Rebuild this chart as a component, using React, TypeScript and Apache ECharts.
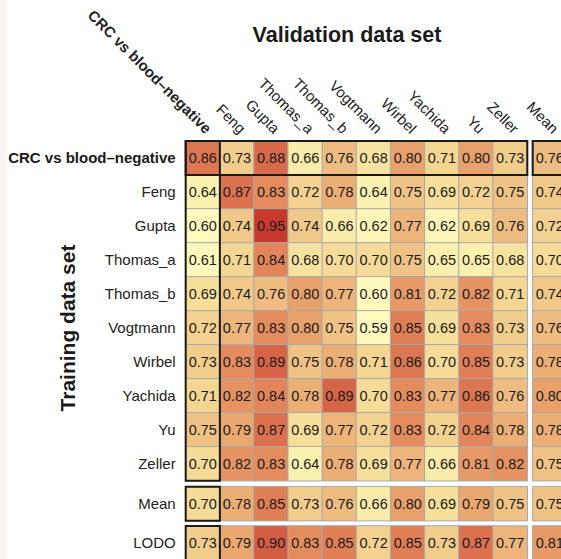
import React, { useEffect, useRef } from "react";
import * as echarts from "echarts";

const rowLabels = ["CRC vs blood–negative", "Feng", "Gupta", "Thomas_a", "Thomas_b", "Vogtmann", "Wirbel", "Yachida", "Yu", "Zeller"];
const colLabels = ["CRC vs blood–negative", "Feng", "Gupta", "Thomas_a", "Thomas_b", "Vogtmann", "Wirbel", "Yachida", "Yu", "Zeller"];
const meanLabel = ["Mean"];
const lodoLabel = ["LODO"];

const cellValues = [
  [0.86, 0.73, 0.88, 0.66, 0.76, 0.68, 0.80, 0.71, 0.80, 0.73],
  [0.64, 0.87, 0.83, 0.72, 0.78, 0.64, 0.75, 0.69, 0.72, 0.75],
  [0.60, 0.74, 0.95, 0.74, 0.66, 0.62, 0.77, 0.62, 0.69, 0.76],
  [0.61, 0.71, 0.84, 0.68, 0.70, 0.70, 0.75, 0.65, 0.65, 0.68],
  [0.69, 0.74, 0.76, 0.80, 0.77, 0.60, 0.81, 0.72, 0.82, 0.71],
  [0.72, 0.77, 0.83, 0.80, 0.75, 0.59, 0.85, 0.69, 0.83, 0.73],
  [0.73, 0.83, 0.89, 0.75, 0.78, 0.71, 0.86, 0.70, 0.85, 0.73],
  [0.71, 0.82, 0.84, 0.78, 0.89, 0.70, 0.83, 0.77, 0.86, 0.76],
  [0.75, 0.79, 0.87, 0.69, 0.77, 0.72, 0.83, 0.72, 0.84, 0.78],
  [0.70, 0.82, 0.83, 0.64, 0.78, 0.69, 0.77, 0.66, 0.81, 0.82],
];
const meanColumnValues = [0.76, 0.74, 0.72, 0.70, 0.74, 0.76, 0.78, 0.80, 0.78, 0.75];
const meanRowValues = [0.70, 0.78, 0.85, 0.73, 0.76, 0.66, 0.80, 0.69, 0.79, 0.75];
const meanOfMeans = [0.75];
const lodoValues = [0.73, 0.79, 0.90, 0.83, 0.85, 0.72, 0.85, 0.73, 0.87, 0.77];
const lodoMean = [0.81];

const colorStops = ["#FFF9BE", "#FAEFAD", "#F5DB97", "#EFC385", "#E9A16B", "#E07E56", "#D35D43", "#C63A2E"];

const FONT = "Liberation Sans, Arial, Helvetica, sans-serif";
const GX = 185.7;
const CW = 34.16;
const GY = 141;
const RH = 33.97;
const MX = 532.7;
const MY = 486.7;
const LY = 526;

export default function App() {
  const ref = useRef<HTMLDivElement>(null);
  useEffect(() => {
    if (!ref.current) return;
    const chart = echarts.init(ref.current, undefined, { renderer: "svg" });
    const boldFmt = (v: string, i: number) => (i === 0 ? `{b|${v}}` : v);
    const rich = { b: { fontWeight: "bold", fontSize: 15, fontFamily: FONT, color: "#1a1a1a" } };
    const grids = [
      { left: GX, top: GY, width: CW * 10, height: RH * 10 },
      { left: MX, top: GY, width: CW, height: RH * 10 },
      { left: GX, top: MY, width: CW * 10, height: RH },
      { left: MX, top: MY, width: CW, height: RH },
      { left: GX, top: LY, width: CW * 10, height: RH },
      { left: MX, top: LY, width: CW, height: RH },
    ].map((g) => ({ ...g, containLabel: false, outerBoundsMode: "none", show: false }));

    const hidden = { axisLine: { show: false }, axisTick: { show: false }, splitLine: { show: false } };
    const leftLabel = {
      margin: 10,
      interval: 0,
      fontSize: 15,
      fontFamily: FONT,
      color: "#222222",
      formatter: boldFmt,
      rich,
    };
    const xAxis = [
      { type: "category", gridIndex: 0, data: colLabels, show: false },
      { type: "category", gridIndex: 1, data: meanLabel, show: false },
      { type: "category", gridIndex: 2, data: colLabels, show: false },
      { type: "category", gridIndex: 3, data: meanLabel, show: false },
      { type: "category", gridIndex: 4, data: colLabels, show: false },
      { type: "category", gridIndex: 5, data: meanLabel, show: false },
    ];
    const yAxis = [
      { type: "category", gridIndex: 0, data: rowLabels, inverse: true, ...hidden, axisLabel: leftLabel },
      { type: "category", gridIndex: 1, data: rowLabels, inverse: true, show: false },
      { type: "category", gridIndex: 2, data: meanLabel, ...hidden, axisLabel: { ...leftLabel, formatter: (v: string) => v } },
      { type: "category", gridIndex: 3, data: meanLabel, show: false },
      { type: "category", gridIndex: 4, data: lodoLabel, ...hidden, axisLabel: { ...leftLabel, formatter: (v: string) => v } },
      { type: "category", gridIndex: 5, data: lodoLabel, show: false },
    ];
    const datasets = [
      cellValues.flatMap((row, ri) => row.map((v, ci) => [ci, ri, v])),
      meanColumnValues.map((v, ri) => [0, ri, v]),
      meanRowValues.map((v, ci) => [ci, 0, v]),
      meanOfMeans.map((v) => [0, 0, v]),
      lodoValues.map((v, ci) => [ci, 0, v]),
      lodoMean.map((v) => [0, 0, v]),
    ];
    const series = datasets.map((data, i) => ({
      type: "heatmap",
      xAxisIndex: i,
      yAxisIndex: i,
      data,
      label: {
        show: true,
        fontSize: 14.5,
        fontFamily: FONT,
        color: "#1a1a1a",
        formatter: (p: any) => Number(p.value[2]).toFixed(2),
      },
      itemStyle: { borderColor: "#a9a9a9", borderWidth: 1 },
      emphasis: { disabled: true },
    }));

    const box = (x: number, y: number, w: number, h: number) => ({
      type: "rect",
      shape: { x, y, width: w, height: h },
      style: { fill: "none", stroke: "#1a1a1a", lineWidth: 2 },
      z: 100,
      silent: true,
    });

    chart.setOption({
      animation: false,
      backgroundColor: "#ffffff",
      grid: grids,
      xAxis,
      yAxis,
      visualMap: {
        type: "continuous",
        show: false,
        min: 0.6,
        max: 0.95,
        dimension: 2,
        inRange: { color: colorStops },
      },
      series,
    });

    const colText = (label: string, cx: number, bold: boolean) => ({
      type: "text",
      x: cx + 1,
      y: GY - 5,
      rotation: -Math.PI / 4,
      silent: true,
      style: {
        text: label,
        fontSize: 15,
        fontWeight: bold ? "bold" : "normal",
        fontFamily: FONT,
        fill: "#222222",
        align: "right",
        verticalAlign: "bottom",
      },
    });
    const colTexts: any[] = colLabels.map((lab, i) => {
      const px = chart.convertToPixel({ gridIndex: 0 }, [i, 0]) as number[];
      return colText(lab, px[0], i === 0);
    });
    meanLabel.forEach((lab, i) => {
      const px = chart.convertToPixel({ gridIndex: 1 }, [i, 0]) as number[];
      colTexts.push(colText(lab, px[0], false));
    });

    chart.setOption({
      graphic: [
        {
          type: "rect",
          shape: { x: 0, y: 0, width: 7, height: 559 },
          style: { fill: "#FCF4F2" },
          silent: true,
          z: -1,
        },
        {
          type: "text",
          x: 347,
          y: 35,
          style: {
            text: "Validation data set",
            fontSize: 21.5,
            fontWeight: "bold",
            fontFamily: FONT,
            fill: "#1a1a1a",
            align: "center",
            verticalAlign: "middle",
          },
        },
        {
          type: "text",
          x: 67,
          y: 328,
          rotation: Math.PI / 2,
          style: {
            text: "Training data set",
            fontSize: 21,
            fontWeight: "bold",
            fontFamily: FONT,
            fill: "#1a1a1a",
            align: "center",
            verticalAlign: "middle",
          },
        },
        ...colTexts,
        box(GX, GY, CW * 10, RH),
        box(GX, GY, CW, RH * 10),
        box(MX, GY, CW, RH),
        box(GX, MY, CW, RH),
        box(GX, LY, CW, RH),
      ],
    });
    return () => chart.dispose();
  }, []);
  return <div ref={ref} style={{ position: "absolute", left: 0, top: 0, width: 561, height: 559 }} />;
}
